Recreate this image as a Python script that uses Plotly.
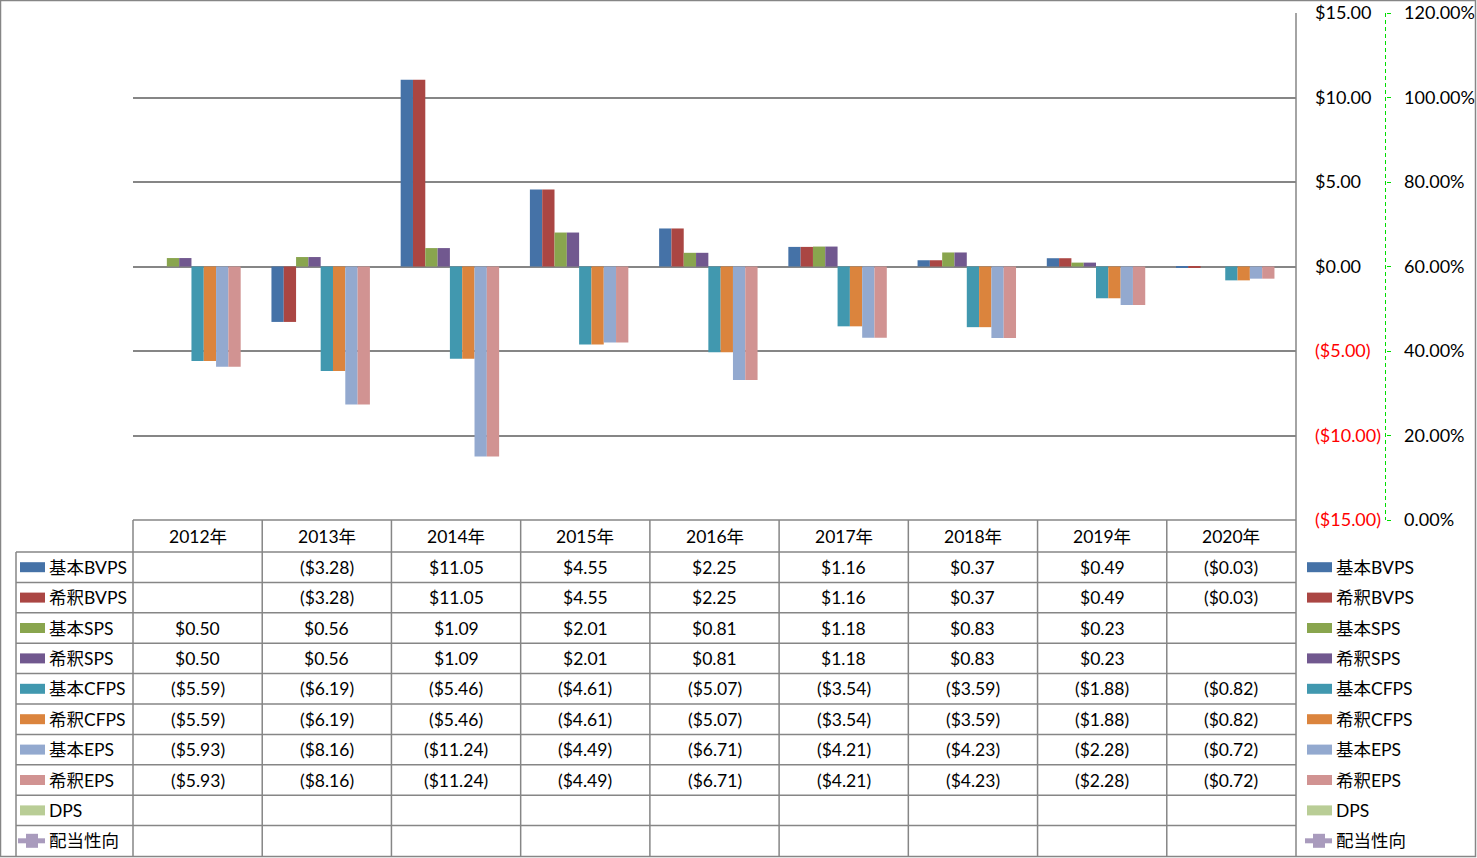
import plotly.graph_objects as go

# ---------------- data ----------------
years = ["2012年", "2013年", "2014年", "2015年", "2016年", "2017年", "2018年", "2019年", "2020年"]
basic_bvps = [None, -3.28, 11.05, 4.55, 2.25, 1.16, 0.37, 0.49, -0.03]
diluted_bvps = [None, -3.28, 11.05, 4.55, 2.25, 1.16, 0.37, 0.49, -0.03]
basic_sps = [0.50, 0.56, 1.09, 2.01, 0.81, 1.18, 0.83, 0.23, None]
diluted_sps = [0.50, 0.56, 1.09, 2.01, 0.81, 1.18, 0.83, 0.23, None]
basic_cfps = [-5.59, -6.19, -5.46, -4.61, -5.07, -3.54, -3.59, -1.88, -0.82]
diluted_cfps = [-5.59, -6.19, -5.46, -4.61, -5.07, -3.54, -3.59, -1.88, -0.82]
basic_eps = [-5.93, -8.16, -11.24, -4.49, -6.71, -4.21, -4.23, -2.28, -0.72]
diluted_eps = [-5.93, -8.16, -11.24, -4.49, -6.71, -4.21, -4.23, -2.28, -0.72]
dps = [None] * 9
payout_ratio = [None] * 9

series_names = ["基本BVPS", "希釈BVPS", "基本SPS", "希釈SPS", "基本CFPS", "希釈CFPS",
                "基本EPS", "希釈EPS", "DPS"]
series_values = [basic_bvps, diluted_bvps, basic_sps, diluted_sps, basic_cfps, diluted_cfps,
                 basic_eps, diluted_eps, dps]
line_name = "配当性向"

y_ticks = [-15, -10, -5, 0, 5, 10, 15]
y2_ticks = [0, 0.2, 0.4, 0.6, 0.8, 1.0, 1.2]

# ---------------- style ----------------
colors = ["#4572A7", "#AA4643", "#89A54E", "#71588F", "#4198AF", "#DB843D",
          "#93A9CF", "#D19392", "#B9CD96"]
line_color = "#A99BBD"
grid_color = "#868686"
FONT = "Lato, 'Noto Sans CJK JP', sans-serif"
W, H = 1477, 858

PL, PR, PT, PB = 133, 1296, 13, 520   # plot area in px
ROW0 = 552                              # first data row top
ROWH = 30.4
Y2X = 1385.5


def px(x):
    return x / W


def py(y):
    return 1 - y / H


def money(v):
    if v is None:
        return ""
    return f"${v:.2f}" if v >= 0 else f"(${-v:.2f})"


fig = go.Figure()
for name, vals, c in zip(series_names, series_values, colors):
    fig.add_trace(go.Bar(x=years, y=vals, name=name, marker=dict(color=c, line=dict(width=0)),
                         showlegend=False))
fig.add_trace(go.Scatter(x=years, y=payout_ratio, name=line_name, yaxis="y2", mode="lines+markers",
                         line=dict(color=line_color, width=3), marker=dict(symbol="square", size=9),
                         showlegend=False))

ticktext = [f"<span style='color:#FF0000'>{money(v)}</span>" if v < 0 else money(v) for v in y_ticks]

shapes = []
annotations = []
line_style = dict(color=grid_color, width=1.5)

# table lines
ncol = len(years)
colw = (PR - PL) / ncol
nrows = len(series_names) + 1
bottom = ROW0 + ROWH * nrows
shapes.append(dict(type="line", xref="paper", yref="paper", x0=px(PL), x1=px(PR), y0=py(PB), y1=py(PB), line=line_style))
for r in range(nrows):
    yy = ROW0 + ROWH * r
    shapes.append(dict(type="line", xref="paper", yref="paper", x0=px(16), x1=px(PR), y0=py(yy), y1=py(yy), line=line_style))
for c in range(ncol + 1):
    xx = PL + colw * c
    shapes.append(dict(type="line", xref="paper", yref="paper", x0=px(xx), x1=px(xx), y0=py(PB), y1=py(bottom), line=line_style))
shapes.append(dict(type="line", xref="paper", yref="paper", x0=px(16), x1=px(16), y0=py(ROW0), y1=py(bottom), line=line_style))
# right axis line through plot area
shapes.append(dict(type="line", xref="paper", yref="paper", x0=px(PR), x1=px(PR), y0=py(PT), y1=py(PB), line=line_style))
# secondary axis dashed line
shapes.append(dict(type="line", xref="paper", yref="paper", x0=px(Y2X), x1=px(Y2X), y0=py(PT), y1=py(PB),
                   line=dict(color="#00DD00", width=1, dash="4px,3px")))
# outer border
shapes.append(dict(type="rect", xref="paper", yref="paper", x0=px(0.5), x1=px(W - 1.5), y0=py(0.5), y1=py(H - 1.5),
                   line=dict(color=grid_color, width=1.5)))

tfont = dict(family=FONT, size=17.5, color="#000000")
# header
for c, yr in enumerate(years):
    annotations.append(dict(xref="paper", yref="paper", x=px(PL + colw * (c + 0.5)), y=py((PB + ROW0) / 2),
                            text=yr, showarrow=False, font=tfont, xanchor="center", yanchor="middle"))
# cells + legend keys
all_names = series_names + [line_name]
all_colors = colors + [line_color]
for r, name in enumerate(all_names):
    yc = ROW0 + ROWH * (r + 0.5)
    if r < len(series_values):
        for c, v in enumerate(series_values[r]):
            if v is None:
                continue
            annotations.append(dict(xref="paper", yref="paper", x=px(PL + colw * (c + 0.5)), y=py(yc),
                                    text=money(v), showarrow=False, font=tfont, xanchor="center", yanchor="middle"))
    for kx in (20, 1307):
        if r < len(series_values):
            shapes.append(dict(type="rect", xref="paper", yref="paper", x0=px(kx), x1=px(kx + 25),
                               y0=py(yc - 5), y1=py(yc + 5), line=dict(width=0), fillcolor=all_colors[r]))
        else:
            shapes.append(dict(type="line", xref="paper", yref="paper", x0=px(kx - 2), x1=px(kx + 25),
                               y0=py(yc), y1=py(yc), line=dict(color=line_color, width=5)))
            shapes.append(dict(type="rect", xref="paper", yref="paper", x0=px(kx + 6), x1=px(kx + 18),
                               y0=py(yc - 7), y1=py(yc + 7), line=dict(width=0), fillcolor=line_color))
        annotations.append(dict(xref="paper", yref="paper", x=px(kx + 27), y=py(yc), text=name, showarrow=False,
                                font=tfont, xanchor="left", yanchor="middle"))

fig.update_layout(
    width=W, height=H,
    margin=dict(l=0, r=0, t=0, b=0, autoexpand=False),
    paper_bgcolor="white", plot_bgcolor="white",
    barmode="group", bargap=1.5 / 10.5, bargroupgap=0,
    font=dict(family=FONT, size=18, color="#000000"),
    xaxis=dict(domain=[px(PL), px(PR)], range=[-0.5, 8.5], showticklabels=False, showgrid=False,
               zeroline=False, showline=False, type="category"),
    yaxis=dict(domain=[py(PB), py(PT)], range=[-15, 15], side="right", tickvals=y_ticks, ticktext=ticktext,
               showgrid=True, gridcolor=grid_color, gridwidth=1.5, zeroline=True, zerolinecolor=grid_color,
               zerolinewidth=1.5, showline=False, ticks="", ticklabelstandoff=18, automargin=False,
               tickfont=dict(family=FONT, size=18, color="#000000")),
    yaxis2=dict(overlaying="y", anchor="free", position=px(Y2X), side="right", range=[0, 1.2],
                tickvals=y2_ticks, tickformat=".2%", showgrid=False, zeroline=False, showline=False,
                ticks="outside", ticklen=4, tickcolor="#00DD00", tickwidth=1, ticklabelstandoff=10,
                automargin=False, tickfont=dict(family=FONT, size=18, color="#000000")),
    shapes=shapes, annotations=annotations,
)

fig.write_html("out.html")
